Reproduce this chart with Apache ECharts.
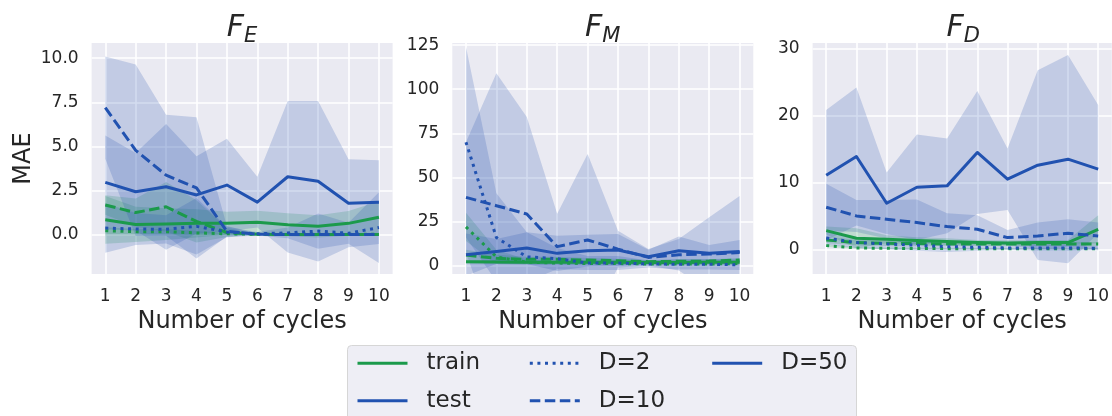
<!DOCTYPE html>
<html>
<head>
<meta charset="utf-8">
<script src="https://cdn.jsdelivr.net/npm/echarts@6/dist/echarts.min.js"></script>
<style>
  html, body { margin: 0; padding: 0; background: #ffffff; }
  #chart { width: 1112px; height: 416px; }
</style>
</head>
<body>
<div id="chart"></div>
<script>
// ---- data: mean MAE and its standard deviation per number of cycles ----
const cycles = [1, 2, 3, 4, 5, 6, 7, 8, 9, 10];

// F_E
const fE_train_d2 = [0.22, 0.17, 0.17, 0.10, 0.05, 0.02, 0.02, 0.02, 0.02, 0.03];
const fE_train_d2_sd = [0.20, 0.15, 0.15, 0.10, 0.05, 0.02, 0.02, 0.02, 0.02, 0.03];
const fE_train_d10 = [1.68, 1.25, 1.58, 0.75, 0.12, 0.02, 0.01, 0.01, 0.01, 0.01];
const fE_train_d10_sd = [0.55, 0.80, 1.40, 1.20, 0.25, 0.03, 0.01, 0.01, 0.01, 0.01];
const fE_train_d50 = [0.84, 0.58, 0.60, 0.64, 0.65, 0.70, 0.56, 0.47, 0.64, 0.99];
const fE_train_d50_sd = [1.35, 1.00, 0.90, 0.80, 0.65, 0.65, 0.65, 0.63, 0.70, 0.90];
const fE_test_d2 = [0.37, 0.32, 0.30, 0.47, 0.15, 0.05, 0.10, 0.20, 0.08, 0.40];
const fE_test_d2_sd = [1.40, 0.90, 0.80, 1.60, 0.30, 0.10, 0.30, 1.00, 0.60, 2.00];
const fE_test_d10 = [7.20, 4.78, 3.37, 2.65, 0.19, 0.02, 0.01, 0.01, 0.01, 0.01];
const fE_test_d10_sd = [2.90, 4.86, 3.43, 4.00, 0.30, 0.05, 0.02, 0.02, 0.02, 0.02];
const fE_test_d50 = [2.96, 2.43, 2.71, 2.25, 2.81, 1.84, 3.28, 3.03, 1.78, 1.84];
const fE_test_d50_sd = [2.66, 2.20, 3.56, 2.19, 2.62, 1.44, 4.29, 4.55, 2.49, 2.37];

// F_M
const fM_train_d2 = [22.0, 5.0, 2.0, 1.5, 1.2, 1.2, 1.0, 1.0, 1.0, 1.2];
const fM_train_d2_sd = [8.0, 4.0, 1.5, 1.0, 1.0, 1.0, 0.8, 0.8, 0.8, 1.0];
const fM_train_d10 = [6.0, 4.2, 3.6, 3.6, 3.2, 2.8, 2.3, 2.5, 2.6, 3.2];
const fM_train_d10_sd = [3.0, 2.0, 1.5, 1.5, 1.2, 1.2, 1.0, 1.0, 1.0, 1.2];
const fM_train_d50 = [2.3, 2.1, 2.0, 2.0, 1.9, 1.9, 1.8, 1.8, 1.9, 1.9];
const fM_train_d50_sd = [1.0, 1.0, 1.0, 1.0, 1.0, 1.0, 1.0, 1.0, 1.0, 1.0];
const fM_test_d2 = [70.0, 16.0, 5.0, 4.0, 1.5, 1.5, 1.0, 0.8, 0.8, 0.5];
const fM_test_d2_sd = [54.0, 25.0, 14.0, 6.0, 4.0, 4.0, 2.0, 3.0, 3.0, 3.0];
const fM_test_d10 = [38.7, 34.0, 29.3, 10.8, 14.6, 9.4, 4.7, 6.2, 6.6, 7.5];
const fM_test_d10_sd = [31.3, 75.0, 55.0, 18.6, 48.7, 10.4, 4.7, 8.9, 20.8, 32.0];
const fM_test_d50 = [6.2, 8.1, 10.0, 7.0, 8.5, 8.9, 5.1, 8.5, 7.0, 8.1];
const fM_test_d50_sd = [12.0, 7.0, 9.0, 10.0, 9.0, 9.0, 4.0, 8.0, 4.7, 6.5];

// F_D
const fD_train_d2 = [0.55, 0.20, 0.15, 0.12, 0.10, 0.10, 0.10, 0.10, 0.10, 0.10];
const fD_train_d2_sd = [0.20, 0.10, 0.10, 0.10, 0.10, 0.10, 0.10, 0.10, 0.10, 0.10];
const fD_train_d10 = [1.40, 1.00, 0.90, 0.85, 0.80, 0.80, 0.80, 0.80, 0.80, 0.80];
const fD_train_d10_sd = [0.50, 0.40, 0.40, 0.40, 0.30, 0.30, 0.30, 0.30, 0.30, 0.30];
const fD_train_d50 = [2.80, 1.65, 1.50, 1.30, 1.15, 1.00, 0.95, 1.00, 1.00, 3.00];
const fD_train_d50_sd = [0.60, 1.50, 0.60, 0.50, 0.50, 0.40, 0.40, 0.40, 0.40, 2.10];
const fD_test_d2 = [1.70, 1.00, 0.80, 0.60, 0.40, 0.30, 0.20, 0.20, 0.20, 0.15];
const fD_test_d2_sd = [1.00, 0.80, 0.80, 0.80, 0.80, 0.50, 0.30, 0.40, 0.40, 0.30];
const fD_test_d10 = [6.30, 5.00, 4.50, 4.00, 3.40, 3.00, 1.75, 2.00, 2.40, 2.00];
const fD_test_d10_sd = [3.50, 2.40, 2.90, 3.45, 2.00, 2.10, 1.15, 2.00, 2.10, 2.00];
const fD_test_d50 = [11.1, 13.9, 6.9, 9.3, 9.5, 14.5, 10.5, 12.6, 13.5, 12.0];
const fD_test_d50_sd = [9.75, 10.35, 4.60, 7.90, 7.10, 9.20, 4.60, 14.20, 15.60, 9.60];

// axis ticks and ranges
const fE_yTicks = [0, 2.5, 5, 7.5, 10];
const fM_yTicks = [0, 25, 50, 75, 100, 125];
const fD_yTicks = [0, 10, 20, 30];
const fE_yRange = [-2.23, 10.86];
const fM_yRange = [-4.7, 126.2];
const fD_yRange = [-3.7, 30.9];
const xRange = [0.55, 10.45];

const splitNames = ['train', 'test'];
const dimNames = ['D=2', 'D=10', 'D=50'];

// ---- styling ----
const FONT = 'DejaVu Sans';
const INK = '#262626';
const GREEN = '#1b9a4b';
const BLUE = '#2152b0';
const PANEL_BG = '#EAEAF2';
const LW = 3;
const DASHES = { 'D=2': [3, 4.6], 'D=10': [10.5, 4.5], 'D=50': 'solid' };
const HUE = { train: GREEN, test: BLUE };

const panels = [
  { sub: 'E', left: 91.6, ticks: fE_yTicks, range: fE_yRange, digits: 1,
    data: {
      train: [[fE_train_d2, fE_train_d2_sd], [fE_train_d10, fE_train_d10_sd], [fE_train_d50, fE_train_d50_sd]],
      test: [[fE_test_d2, fE_test_d2_sd], [fE_test_d10, fE_test_d10_sd], [fE_test_d50, fE_test_d50_sd]]
    } },
  { sub: 'M', left: 452.3, ticks: fM_yTicks, range: fM_yRange, digits: 0,
    data: {
      train: [[fM_train_d2, fM_train_d2_sd], [fM_train_d10, fM_train_d10_sd], [fM_train_d50, fM_train_d50_sd]],
      test: [[fM_test_d2, fM_test_d2_sd], [fM_test_d10, fM_test_d10_sd], [fM_test_d50, fM_test_d50_sd]]
    } },
  { sub: 'D', left: 812.6, ticks: fD_yTicks, range: fD_yRange, digits: 0,
    data: {
      train: [[fD_train_d2, fD_train_d2_sd], [fD_train_d10, fD_train_d10_sd], [fD_train_d50, fD_train_d50_sd]],
      test: [[fD_test_d2, fD_test_d2_sd], [fD_test_d10, fD_test_d10_sd], [fD_test_d50, fD_test_d50_sd]]
    } }
];

const PLOT_TOP = 43, PLOT_W = 301, PLOT_H = 231;

function hexToRgba(hex, a) {
  const n = parseInt(hex.slice(1), 16);
  return 'rgba(' + ((n >> 16) & 255) + ',' + ((n >> 8) & 255) + ',' + (n & 255) + ',' + a + ')';
}

// band of mean ± sd, drawn once as a single polygon through the axis scales
function bandRenderer(fill) {
  return function (params, api) {
    if (params.dataIndexInside !== 0) return null;
    const n = params.dataInsideLength;
    const upper = [], lower = [];
    for (let i = 0; i < n; i++) {
      const x = api.value(0, i);
      upper.push(api.coord([x, api.value(2, i)]));
      lower.push(api.coord([x, api.value(1, i)]));
    }
    const cs = params.coordSys;
    return {
      type: 'polygon',
      shape: { points: upper.concat(lower.reverse()) },
      style: { fill: fill, stroke: null },
      clipPath: { type: 'rect', shape: { x: cs.x, y: cs.y, width: cs.width, height: cs.height } },
      silent: true
    };
  };
}

const grid = [], xAxis = [], yAxis = [], series = [], graphic = [];

panels.forEach((p, k) => {
  grid.push({ left: p.left, top: PLOT_TOP, width: PLOT_W, height: PLOT_H,
    show: true, backgroundColor: PANEL_BG, borderWidth: 0 });

  xAxis.push({
    gridIndex: k, type: 'value', min: xRange[0], max: xRange[1],
    name: 'Number of cycles', nameLocation: 'middle', nameGap: 35,
    nameTextStyle: { fontFamily: FONT, fontSize: 24, color: INK },
    axisLine: { show: false },
    axisTick: { show: false, customValues: cycles },
    axisLabel: { customValues: cycles, fontFamily: FONT, fontSize: 17, color: INK, margin: 14 },
    splitLine: { show: true, lineStyle: { color: '#ffffff', width: 1.6 } }
  });

  yAxis.push({
    gridIndex: k, type: 'value', min: p.range[0], max: p.range[1],
    name: k === 0 ? 'MAE' : '', nameLocation: 'middle', nameGap: 56, nameRotate: 90,
    nameTextStyle: { fontFamily: FONT, fontSize: 24, color: INK },
    axisLine: { show: false },
    axisTick: { show: false, customValues: p.ticks },
    axisLabel: { customValues: p.ticks, fontFamily: FONT, fontSize: 17, color: INK, margin: 13,
      formatter: v => Number(v).toFixed(p.digits) },
    splitLine: { show: true, lineStyle: { color: '#ffffff', width: 1.6 } }
  });

  splitNames.forEach(split => {
    p.data[split].forEach((pair, d) => {
      const mean = pair[0], sd = pair[1];
      series.push({
        type: 'custom', xAxisIndex: k, yAxisIndex: k, z: 1,
        name: 'F_' + p.sub + ' ' + split + ' ' + dimNames[d] + ' band',
        data: cycles.map((c, i) => [c, mean[i] - sd[i], mean[i] + sd[i]]),
        encode: { x: 0, y: [1, 2] },
        renderItem: bandRenderer(hexToRgba(HUE[split], 0.2)),
        silent: true
      });
    });
  });
  splitNames.forEach(split => {
    p.data[split].forEach((pair, d) => {
      const mean = pair[0];
      series.push({
        type: 'line', xAxisIndex: k, yAxisIndex: k, z: 2,
        name: 'F_' + p.sub + ' ' + split + ' ' + dimNames[d],
        data: cycles.map((c, i) => [c, mean[i]]),
        symbol: 'none', silent: true, animation: false,
        lineStyle: { color: HUE[split], width: LW, type: DASHES[dimNames[d]], cap: 'butt', join: 'round' }
      });
    });
  });

  // panel title F with subscript
  graphic.push({
    type: 'text', x: p.left + PLOT_W / 2, y: 13, z: 10,
    style: {
      text: '{f|F}{s|' + p.sub + '}', align: 'center', verticalAlign: 'top',
      rich: {
        f: { fontFamily: FONT, fontSize: 30, fontStyle: 'italic', fill: INK, lineHeight: 34, verticalAlign: 'top' },
        s: { fontFamily: FONT, fontSize: 21, fontStyle: 'italic', fill: INK, lineHeight: 24, verticalAlign: 'bottom', padding: [14, 0, 0, 0] }
      }
    }
  });
});

// legend-only entries
const legendEntries = [
  { name: 'train', color: GREEN, type: 'solid' },
  { name: 'test', color: BLUE, type: 'solid' },
  { name: 'D=2', color: BLUE, type: DASHES['D=2'] },
  { name: 'D=10', color: BLUE, type: DASHES['D=10'] },
  { name: 'D=50', color: BLUE, type: 'solid' }
];
legendEntries.forEach(e => {
  series.push({ type: 'line', name: e.name, data: [], xAxisIndex: 0, yAxisIndex: 0, symbol: 'none',
    color: e.color, lineStyle: { color: e.color, width: LW, type: e.type, cap: 'butt' } });
});

function legendColumn(names, left) {
  return {
    data: names,
    orient: 'vertical', left: left, top: 350.3, padding: 0, itemGap: 11.4,
    itemWidth: 50, itemHeight: 14, selectedMode: false, z: 10,
    itemStyle: { opacity: 0 },
    lineStyle: { width: LW },
    textStyle: { fontFamily: FONT, fontSize: 23, color: INK, lineHeight: 26, padding: [0, 0, 0, 14] }
  };
}

graphic.push({
  type: 'rect', z: 5, silent: true,
  shape: { x: 347.5, y: 345.5, width: 509, height: 90, r: 4 },
  style: { fill: '#EEEEF5', stroke: '#D6D6D6', lineWidth: 1 }
});

const chart = echarts.init(document.getElementById('chart'), null, { renderer: 'canvas' });
chart.setOption({
  animation: false,
  backgroundColor: '#ffffff',
  grid, xAxis, yAxis, series, graphic,
  legend: [
    legendColumn(['train', 'test'], 356),
    legendColumn(['D=2', 'D=10'], 528.3),
    legendColumn(['D=50'], 710.7)
  ]
});
</script>
</body>
</html>
